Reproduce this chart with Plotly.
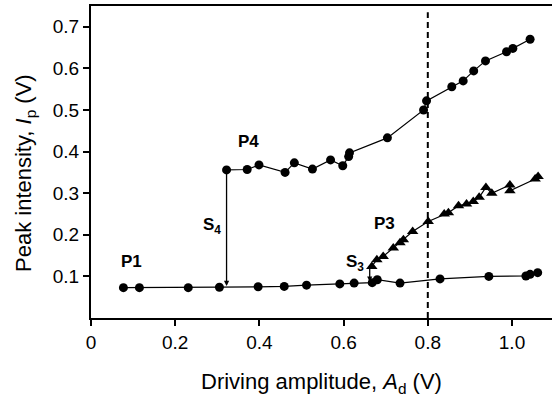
import plotly.graph_objects as go

# Lower branch (P1, circles)
p1_x = [0.077, 0.115, 0.231, 0.305, 0.397, 0.459, 0.512, 0.591, 0.625, 0.668, 0.680, 0.734, 0.829, 0.945, 1.033, 1.043, 1.061]
p1_y = [0.073, 0.073, 0.073, 0.074, 0.075, 0.076, 0.079, 0.082, 0.084, 0.085, 0.092, 0.084, 0.094, 0.100, 0.101, 0.105, 0.109]

# Upper branch (P4, circles)
p4_x = [0.322, 0.371, 0.399, 0.461, 0.483, 0.526, 0.569, 0.598, 0.612, 0.614, 0.704, 0.790, 0.797, 0.857, 0.884, 0.909, 0.937, 0.987, 1.002, 1.043]
p4_y = [0.356, 0.357, 0.368, 0.350, 0.373, 0.358, 0.380, 0.366, 0.388, 0.397, 0.433, 0.500, 0.522, 0.556, 0.570, 0.594, 0.618, 0.640, 0.648, 0.670]

# Middle branch (P3, triangles)
p3_x = [0.667, 0.679, 0.694, 0.718, 0.734, 0.742, 0.764, 0.801, 0.839, 0.849, 0.873, 0.892, 0.908, 0.922, 0.938, 0.952, 0.995, 0.995, 1.055, 1.062]
p3_y = [0.124, 0.140, 0.148, 0.168, 0.181, 0.188, 0.208, 0.232, 0.250, 0.253, 0.270, 0.274, 0.280, 0.290, 0.314, 0.300, 0.320, 0.306, 0.334, 0.340]

# Switching transitions (x, from y, to y)
s4 = (0.322, 0.356, 0.077)
s3 = (0.662, 0.124, 0.087)

# Dashed marker line
dash_x = 0.8
dash_top = 0.735

x_ticks = [0, 0.2, 0.4, 0.6, 0.8, 1.0]
x_ticklabels = ["0", "0.2", "0.4", "0.6", "0.8", "1.0"]
y_ticks = [0.1, 0.2, 0.3, 0.4, 0.5, 0.6, 0.7]
y_ticklabels = ["0.1", "0.2", "0.3", "0.4", "0.5", "0.6", "0.7"]

x_title = "Driving amplitude, <i>A</i><sub>d</sub> (V)"
y_title = "Peak intensity, <i>I</i><sub>p</sub> (V)"

FONT = "Liberation Sans, Arial, Helvetica, sans-serif"

fig = go.Figure()
for xs, ys, sym, sz in ((p1_x, p1_y, "circle", 9), (p4_x, p4_y, "circle", 9), (p3_x, p3_y, "triangle-up", 10)):
    fig.add_trace(go.Scatter(x=xs, y=ys, mode="lines+markers", cliponaxis=False,
                             line=dict(color="black", width=1.2),
                             marker=dict(symbol=sym, size=sz, color="black")))

fig.add_shape(type="line", xref="x", yref="y", x0=dash_x, x1=dash_x, y0=0, y1=dash_top,
              line=dict(color="black", width=2, dash="6px,4px"))

for sx, sy0, sy1 in (s4, s3):
    fig.add_annotation(x=sx, y=sy1, ax=sx, ay=sy0, xref="x", yref="y", axref="x", ayref="y",
                       showarrow=True, arrowhead=2, arrowsize=0.8, arrowwidth=1.3,
                       arrowcolor="black", text="")

labels = [
    (0.097, 0.136, "<b>P1</b>"),
    (0.375, 0.424, "<b>P4</b>"),
    (0.697, 0.226, "<b>P3</b>"),
    (0.288, 0.220, "<b>S<sub>4</sub></b>"),
    (0.626, 0.132, "<b>S<sub>3</sub></b>"),
]
for lx, ly, txt in labels:
    fig.add_annotation(x=lx, y=ly, xref="x", yref="y", text=txt, showarrow=False,
                       font=dict(family=FONT, size=17, color="black"))

# Axis titles
fig.add_annotation(x=0.5, y=-0.208, xref="paper", yref="paper", text=x_title, showarrow=False,
                   xanchor="center", yanchor="middle", font=dict(family=FONT, size=22, color="black"))
fig.add_annotation(x=-0.143, y=0.465, xref="paper", yref="paper", text=y_title, showarrow=False,
                   textangle=-90, xanchor="center", yanchor="middle",
                   font=dict(family=FONT, size=22, color="black"))

fig.update_layout(
    width=552, height=403,
    margin=dict(l=91, r=0, t=6, b=85),
    paper_bgcolor="white", plot_bgcolor="white",
    showlegend=False,
    font=dict(family=FONT, size=17, color="black"),
    xaxis=dict(range=[0, 1.095], tickvals=x_ticks, ticktext=x_ticklabels, automargin=False,
               showgrid=False, zeroline=False, showline=True, linecolor="black", linewidth=2,
               mirror=True, ticks="outside", ticklen=6, tickwidth=1.5, tickcolor="black",
               tickfont=dict(size=19)),
    yaxis=dict(range=[0, 0.75], tickvals=y_ticks, ticktext=y_ticklabels, automargin=False,
               showgrid=False, zeroline=False, showline=True, linecolor="black", linewidth=2,
               ticks="outside", ticklen=6, tickwidth=1.5, tickcolor="black",
               tickfont=dict(size=19)),
)

fig.write_html("out.html", config={"displayModeBar": False},
               post_script="document.body.style.margin='0';document.body.style.overflow='hidden';")
